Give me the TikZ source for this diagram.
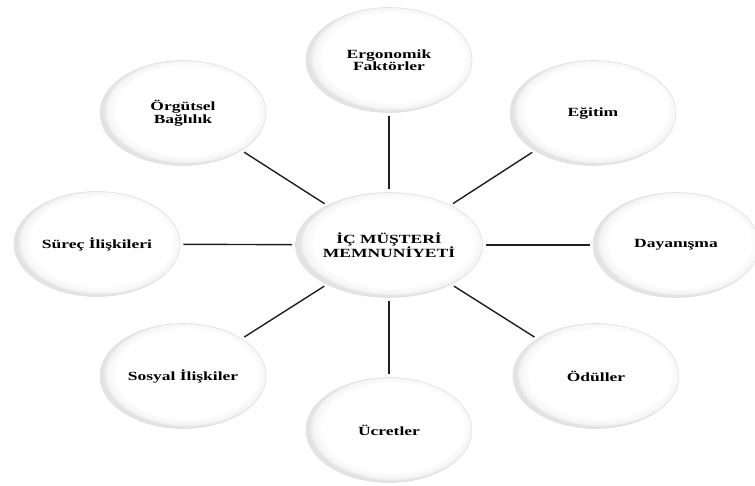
\documentclass[tikz,border=0pt]{standalone}
\usepackage{fontspec}
\setmainfont{Liberation Serif}[FakeStretch=1.4]
\usetikzlibrary{shapes.geometric}
\pgfdeclareradialshading{bubbleshade}{\pgfpoint{2bp}{2bp}}{color(0bp)=(white); color(21bp)=(white); color(24bp)=(black!4); color(25bp)=(black!11); color(50bp)=(black!11)}
\tikzset{
  bubble/.style={ellipse, minimum width=166pt, minimum height=105pt, inner sep=0pt,
    shade, shading=bubbleshade, draw=black!12, line width=0.6pt, align=center,
    text=black, font=\fontsize{12.5}{11.5}\selectfont\bfseries},
  link/.style={draw=black!88, line width=1.4pt, shorten <=3pt, shorten >=3pt}
}
\begin{document}
\begin{tikzpicture}[x=1pt,y=-1pt]
\useasboundingbox (0,0) rectangle (755,485);
\node[bubble] (c) at (389,245) {İÇ MÜŞTERİ\\MEMNUNİYETİ};
\node[bubble] (erg) at (389,60) {Ergonomik\\Faktörler};
\node[bubble] (egi) at (593,113) {Eğitim};
\node[bubble] (day) at (676,245) {Dayanışma};
\node[bubble] (odu) at (596,376) {Ödüller};
\node[bubble] (ucr) at (389,430) {Ücretler};
\node[bubble] (sos) at (183,376) {Sosyal İlişkiler};
\node[bubble] (sur) at (97,244) {Süreç İlişkileri};
\node[bubble] (org) at (183,113) {Örgütsel\\Bağlılık};
\foreach \n in {erg,egi,day,odu,ucr,sos,sur,org}
  \draw[link] (c) -- (\n);
\end{tikzpicture}
\end{document}
